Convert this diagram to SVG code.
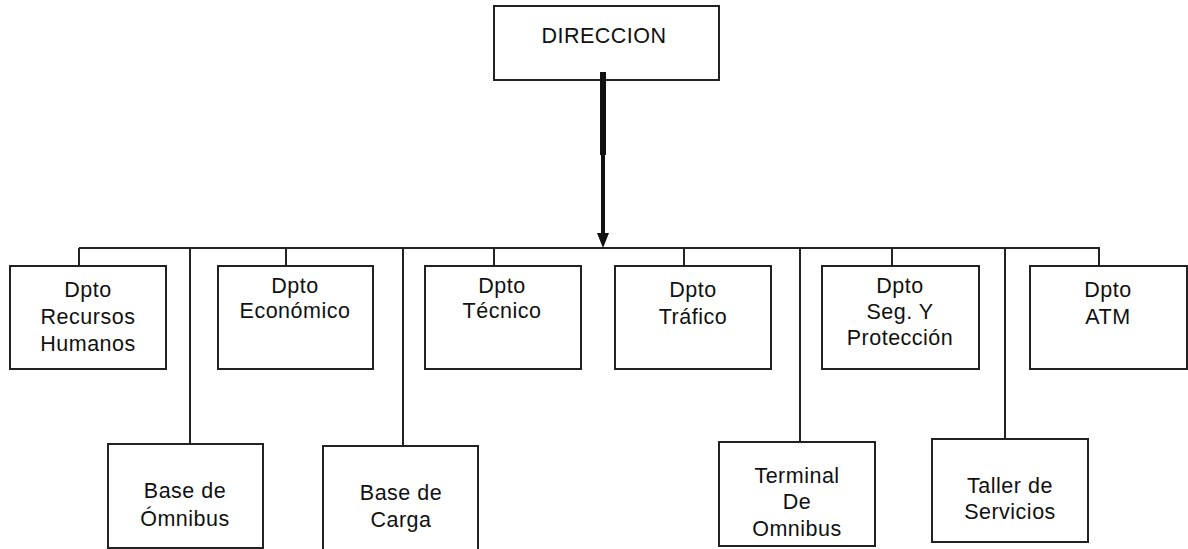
<svg xmlns="http://www.w3.org/2000/svg" width="1188" height="549" viewBox="0 0 1188 549">
<style>
.box{fill:#fff;stroke:#222;stroke-width:2}
.ln{stroke:#222;stroke-width:2;fill:none}
text{font-family:"Liberation Sans",Arial,sans-serif;font-size:21.5px;fill:#111;text-anchor:middle;letter-spacing:0.5px}
</style>
<rect width="1188" height="549" fill="#fff"/>
<g id="direccion"><rect class="box" x="494" y="6" width="225" height="74"/><text x="604" y="43">DIRECCION</text></g>
<g id="rrhh"><rect class="box" x="10" y="266" width="156" height="103"/><text x="88" y="297">Dpto</text><text x="88" y="324">Recursos</text><text x="88" y="351">Humanos</text></g>
<g id="economico"><rect class="box" x="218" y="266" width="155" height="103"/><text x="295" y="293">Dpto</text><text x="295" y="318">Económico</text></g>
<g id="tecnico"><rect class="box" x="425" y="266" width="156" height="103"/><text x="502" y="293">Dpto</text><text x="502" y="318">Técnico</text></g>
<g id="trafico"><rect class="box" x="615" y="266" width="156" height="103"/><text x="693" y="297">Dpto</text><text x="693" y="324">Tráfico</text></g>
<g id="seguridad"><rect class="box" x="822" y="266" width="157" height="103"/><text x="900" y="293">Dpto</text><text x="900" y="319">Seg. Y</text><text x="900" y="345">Protección</text></g>
<g id="atm"><rect class="box" x="1030" y="266" width="157" height="103"/><text x="1108" y="297">Dpto</text><text x="1108" y="324">ATM</text></g>
<g id="base-omnibus"><rect class="box" x="108" y="444" width="155" height="104"/><text x="185" y="498">Base de</text><text x="185" y="526">Ómnibus</text></g>
<g id="base-carga"><rect class="box" x="323" y="446" width="155" height="104"/><text x="401" y="500">Base de</text><text x="401" y="527">Carga</text></g>
<g id="terminal"><rect class="box" x="719" y="442" width="156" height="104"/><text x="797" y="483">Terminal</text><text x="797" y="509">De</text><text x="797" y="536">Omnibus</text></g>
<g id="taller"><rect class="box" x="932" y="439" width="156" height="103"/><text x="1010" y="493">Taller de</text><text x="1010" y="519">Servicios</text></g>
<g id="connectors">
<path class="ln" d="M79,248 H1100"/>
<path class="ln" d="M79,248 V266 M286,248 V266 M494,248 V266 M684,248 V266 M892,248 V266 M1099,248 V266"/>
<path class="ln" d="M190,248 V444 M403,248 V446 M800,248 V442 M1005,248 V439"/>
<path d="M603,72 V155" stroke="#111" stroke-width="6"/>
<path d="M603,155 V236" stroke="#111" stroke-width="4"/>
<path d="M597,233 L609,233 L603,248 Z" fill="#111"/>
</g>
</svg>
